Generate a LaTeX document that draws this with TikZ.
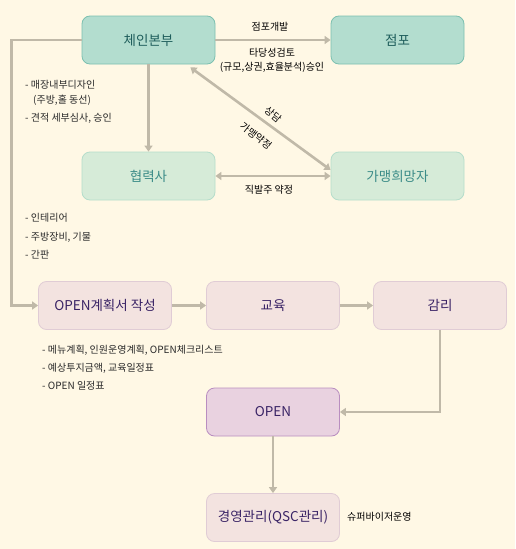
\documentclass[tikz,border=0pt]{standalone}
\usepackage{fontspec}
\setmainfont{Noto Sans CJK KR}
\usetikzlibrary{arrows.meta, positioning}

\definecolor{bgcream}{HTML}{FFF8E5}
\definecolor{hqfill}{HTML}{B3DDCF}
\definecolor{hqline}{HTML}{7CC0B0}
\definecolor{hqtext}{HTML}{1F5E5C}
\definecolor{partfill}{HTML}{D6EBD8}
\definecolor{partline}{HTML}{B5DDCB}
\definecolor{parttext}{HTML}{3C8C88}
\definecolor{stepfill}{HTML}{F3E3E0}
\definecolor{stepline}{HTML}{E0CCD5}
\definecolor{steptext}{HTML}{3A2466}
\definecolor{openfill}{HTML}{E9D2E0}
\definecolor{openline}{HTML}{B98EC0}
\definecolor{arrowgray}{HTML}{C0B9A8}
\definecolor{notetext}{HTML}{2A2A2A}

\begin{document}
\begin{tikzpicture}[
    x=1pt, y=-1pt,
    font=\fontsize{10}{12}\selectfont,
    hqbox/.style={
        rectangle,
        rounded corners=8pt,
        draw=hqline,
        fill=hqfill,
        line width=0.8pt,
        minimum width=133pt,
        minimum height=48pt,
        text=hqtext,
        font=\fontsize{13.5}{15}\selectfont
    },
    partbox/.style={
        hqbox,
        draw=partline,
        fill=partfill,
        text=parttext
    },
    stepbox/.style={
        hqbox,
        draw=stepline,
        fill=stepfill,
        text=steptext
    },
    openbox/.style={
        stepbox,
        draw=openline,
        fill=openfill
    },
    arrow/.style={-{Triangle[length=6pt, width=8pt]}, line width=2.6pt, draw=arrowgray},
    twoway/.style={{Triangle[length=6pt, width=8pt]}-{Triangle[length=6pt, width=8pt]}, line width=2.6pt, draw=arrowgray},
    note/.style={anchor=west, inner sep=0pt, text=notetext},
    lbl/.style={inner sep=0pt, text=black}
]

% Fondo
\fill[bgcream] (0,0) rectangle (515,549);
\useasboundingbox (0,0) rectangle (515,549);

% Fila superior
\node[hqbox] (hq) at (148.5,40) {체인본부};
\node[hqbox] (store) at (397.5,40) {점포};

% Fila de socios
\node[partbox] (partner) at (148.5,176) {협력사};
\node[partbox] (applicant) at (397.5,176) {가맹희망자};

% Fila de pasos
\node[stepbox] (plan) at (105,305.5) {OPEN계획서 작성};
\node[stepbox] (training) at (273,305.5) {교육};
\node[stepbox] (supervise) at (440,305.5) {감리};
\node[openbox] (open) at (273,412) {OPEN};
\node[stepbox] (manage) at (273,517.5) {경영관리(QSC관리)};

% Flechas
\draw[arrow] (hq) -- (store);
\draw[arrow] (hq) -- (partner);
\draw[twoway] (partner) -- (applicant);
\draw[twoway] ([yshift=6pt]applicant.west) -- ([xshift=-25pt, yshift=-3pt]hq.south east);
\draw[arrow] (hq.west) -- ++(-70,0) |- (plan.west);
\draw[arrow] (plan) -- (training);
\draw[arrow] (training) -- (supervise);
\draw[arrow] (supervise.south) |- (open.east);
\draw[arrow] (open) -- (manage);

% Etiquetas de flechas
\node[lbl] (devlbl) at (270,27) {점포개발};
\node[lbl] (checklbl) at (272,53) {타당성검토};
\node[lbl] (approvelbl) at (272,67) {(규모,상권,효율분석)승인};
\node[lbl, rotate=-40] (consultlbl) at (273,115) {상담};
\node[lbl, rotate=-38] (contractlbl) at (256,136) {가맹약정};
\node[lbl] (orderlbl) at (269,190) {직발주 약정};
\node[lbl, anchor=west] (svlbl) at (347,517) {슈퍼바이저운영};

% Notas
\node[note] (n1) at (25,85) {- 매장내부디자인};
\node[note] (n2) at (33,100) {(주방,홀 동선)};
\node[note] (n3) at (25,118) {- 견적 세부심사, 승인};
\node[note] (n4) at (25,218) {- 인테리어};
\node[note] (n5) at (25,237) {- 주방장비, 기물};
\node[note] (n6) at (25,255) {- 간판};
\node[note] (n7) at (42,350) {- 메뉴계획, 인원운영계획, OPEN체크리스트};
\node[note] (n8) at (42,368) {- 예상투지금액, 교육일정표};
\node[note] (n9) at (42,386) {- OPEN 일정표};

\end{tikzpicture}
\end{document}
